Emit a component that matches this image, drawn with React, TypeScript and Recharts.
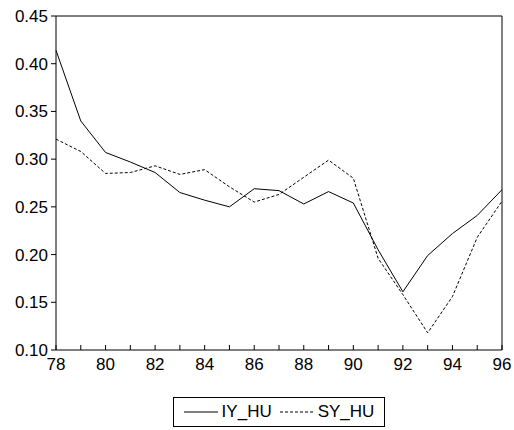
import * as React from 'react';
import { LineChart, Line, XAxis, YAxis, ReferenceLine } from 'recharts';

const years = [78, 79, 80, 81, 82, 83, 84, 85, 86, 87, 88, 89, 90, 91, 92, 93, 94, 95, 96];
const iyHu = [0.414, 0.34, 0.307, 0.297, 0.286, 0.265, 0.257, 0.25, 0.269, 0.267, 0.253, 0.266, 0.254, 0.205, 0.161, 0.199, 0.222, 0.241, 0.268];
const syHu = [0.321, 0.308, 0.285, 0.286, 0.293, 0.284, 0.289, 0.271, 0.255, 0.263, 0.281, 0.299, 0.28, 0.196, 0.158, 0.118, 0.156, 0.218, 0.256];
const yTicks = [0.1, 0.15, 0.2, 0.25, 0.3, 0.35, 0.4, 0.45];

const data = years.map((y, i) => ({ year: y, IY_HU: iyHu[i], SY_HU: syHu[i] }));
const FONT = '"Liberation Sans", Arial, sans-serif';

function ChartLegend() {
  return (
    <div
      style={{
        position: 'absolute',
        left: 173,
        top: 397,
        border: '1px solid #000',
        width: 212,
        height: 30,
        display: 'flex',
        alignItems: 'center',
        justifyContent: 'center',
        fontSize: 17,
        fontFamily: FONT,
        color: '#000',
        boxSizing: 'border-box',
      }}
    >
      <svg width="34" height="4"><line x1="0" y1="2" x2="34" y2="2" stroke="#000" /></svg>
      <span style={{ margin: '0 8px 0 4px' }}>IY_HU</span>
      <svg width="34" height="4"><line x1="0" y1="2" x2="34" y2="2" stroke="#000" strokeDasharray="3 2" /></svg>
      <span style={{ marginLeft: 4 }}>SY_HU</span>
    </div>
  );
}

export default function App() {
  return (
    <div style={{ position: 'fixed', left: 0, top: 0, background: '#fff', width: 514, height: 430 }}>
      <style>{'.recharts-wrapper, .recharts-surface { overflow: visible !important; }'}</style>
      <LineChart width={514} height={390} data={data} margin={{ top: 16, right: 12, bottom: 0, left: 0 }}>
        <XAxis
          dataKey="year"
          type="number"
          domain={[78, 96]}
          ticks={years}
          interval={0}
          tickFormatter={(v) => (v % 2 === 0 ? String(v) : '')}
          tickSize={-5}
          tickMargin={13}
          stroke="#000"
          tick={{ fill: '#000', fontSize: 17, fontFamily: FONT }}
          height={40}
        />
        <YAxis
          type="number"
          domain={[0.1, 0.45]}
          ticks={yTicks}
          interval={0}
          tickFormatter={(v) => v.toFixed(2)}
          tickSize={5}
          tickMargin={3}
          width={56}
          stroke="#000"
          tick={{ fill: '#000', fontSize: 17, fontFamily: FONT }}
        />
        <ReferenceLine y={0.45} stroke="#000" />
        <ReferenceLine x={96} stroke="#000" />
        <Line dataKey="IY_HU" stroke="#000" strokeWidth={1} dot={false} isAnimationActive={false} />
        <Line dataKey="SY_HU" stroke="#000" strokeWidth={1} strokeDasharray="3 2" dot={false} isAnimationActive={false} />
      </LineChart>
      <ChartLegend />
    </div>
  );
}
